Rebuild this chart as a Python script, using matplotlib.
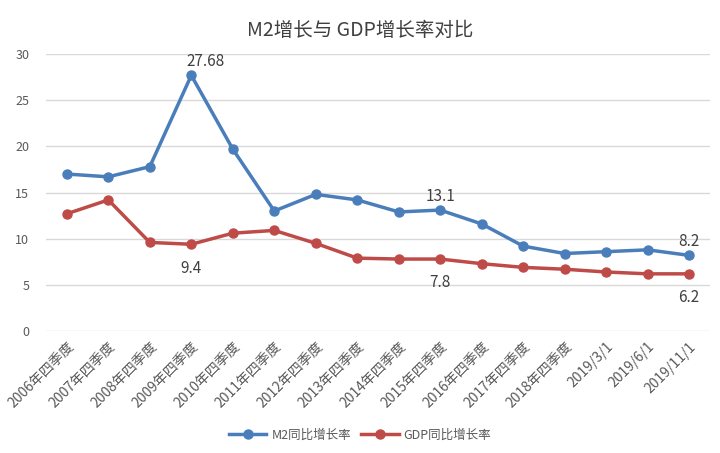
import matplotlib
matplotlib.use("Agg")
import matplotlib.pyplot as plt

plt.rcParams['font.family'] = ['Noto Sans CJK SC', 'DejaVu Sans']

categories = ['2006年四季度', '2007年四季度', '2008年四季度', '2009年四季度', '2010年四季度',
              '2011年四季度', '2012年四季度', '2013年四季度', '2014年四季度', '2015年四季度',
              '2016年四季度', '2017年四季度', '2018年四季度', '2019/3/1', '2019/6/1', '2019/11/1']
m2 = [17.0, 16.7, 17.8, 27.68, 19.7, 13.0, 14.8, 14.2, 12.9, 13.1, 11.6, 9.2, 8.4, 8.6, 8.8, 8.2]
gdp = [12.7, 14.2, 9.6, 9.4, 10.6, 10.9, 9.5, 7.9, 7.8, 7.8, 7.3, 6.9, 6.7, 6.4, 6.2, 6.2]

# which points get a value label: (index, above?, x shift in points)
m2_labels = [(3, True, 10), (9, True, 0), (15, True, 0)]
gdp_labels = [(3, False, 0), (9, False, 0), (15, False, 0)]

blue = '#4A7EBB'
red = '#BE4B48'
gray = '#595959'

fig = plt.figure(figsize=(7.2, 4.53), dpi=100)
ax = fig.add_axes([0.064, 0.269, 0.922, 0.612])

x = list(range(len(categories)))
ax.plot(x, m2, color=blue, lw=2.5, marker='o', ms=6.5, label='M2同比增长率')
ax.plot(x, gdp, color=red, lw=2.5, marker='o', ms=6.5, label='GDP同比增长率')

for series, labels in ((m2, m2_labels), (gdp, gdp_labels)):
    for i, up, dx in labels:
        ax.annotate(f'{series[i]:g}', (i, series[i]), xytext=(dx, 4 if up else -11),
                    textcoords='offset points', ha='center', va='bottom' if up else 'top',
                    fontsize=11, color='#404040')

ax.set_xlim(-0.5, len(categories) - 0.5)
ax.set_ylim(0, 30)
ax.set_yticks(range(0, 31, 5))
ax.set_xticks(x)
ax.set_xticklabels(categories, rotation=45, ha='right', rotation_mode='anchor', fontsize=10)
ax.tick_params(axis='both', length=0, colors=gray)
ax.tick_params(axis='y', labelsize=9, pad=12)
ax.tick_params(axis='x', pad=6)
ax.grid(axis='y', color='#D9D9D9', lw=1)
ax.set_axisbelow(True)
for s in ax.spines.values():
    s.set_visible(False)

fig.suptitle('M2增长与 GDP增长率对比', x=0.5, y=0.955, fontsize=14, fontweight='medium', color='#404040')
fig.legend(loc='lower center', bbox_to_anchor=(0.5, 0.0), ncol=2, frameon=False,
           fontsize=9, labelcolor=gray, handlelength=3, columnspacing=0.8, handletextpad=0.4)

fig.savefig('out.png', dpi=100)
